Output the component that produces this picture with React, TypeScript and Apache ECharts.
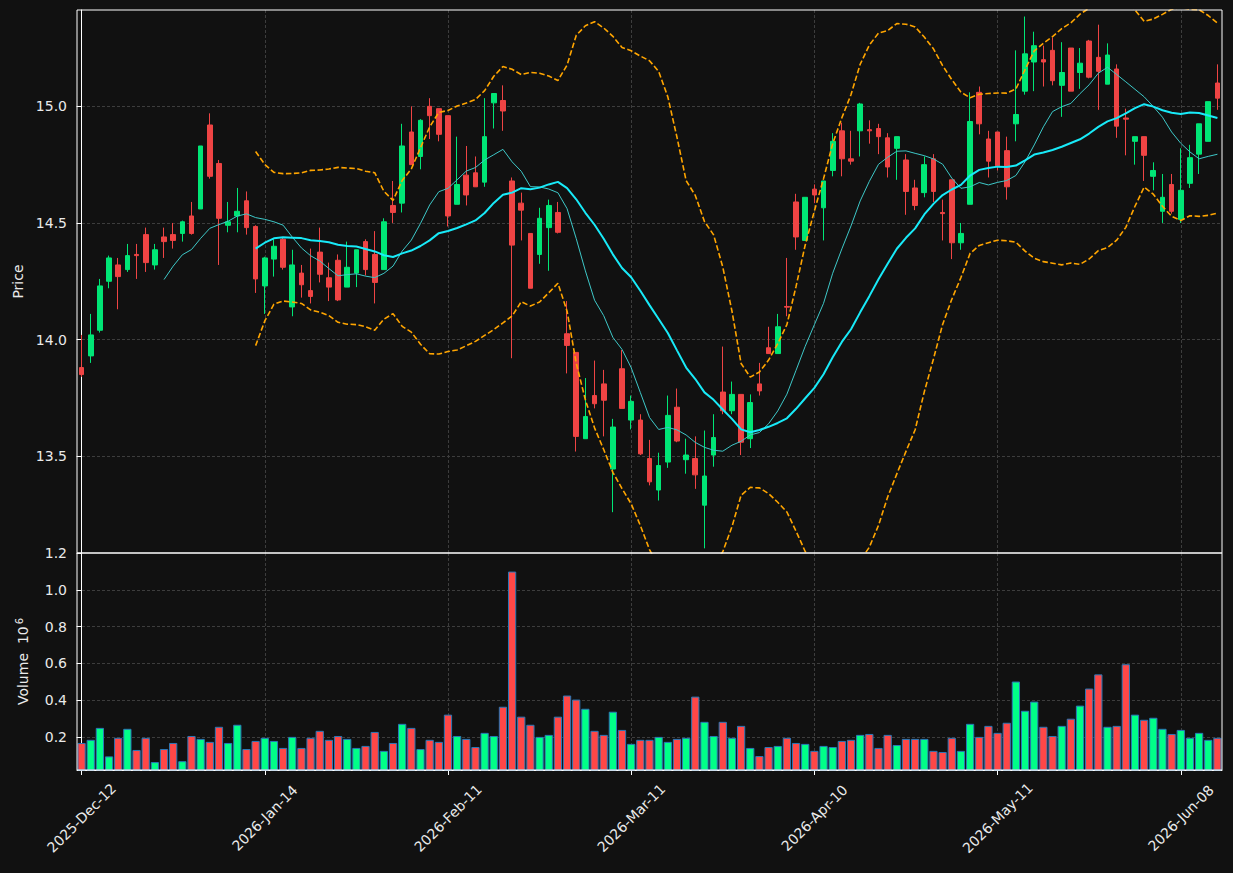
import React, { useEffect, useRef } from 'react';
import * as echarts from 'echarts';

// ---- data ----
const START_DATE = '2025-12-12';
const HOLIDAYS = ['2025-12-25', '2025-12-26', '2026-01-01', '2026-04-03', '2026-04-06', '2026-05-01'];
const MONTHS = ['Jan', 'Feb', 'Mar', 'Apr', 'May', 'Jun', 'Jul', 'Aug', 'Sep', 'Oct', 'Nov', 'Dec'];

const opens = [13.88, 13.93, 14.04, 14.25, 14.32, 14.30, 14.365, 14.45, 14.32, 14.44,
  14.45, 14.455, 14.53, 14.56, 14.92, 14.755, 14.49, 14.53, 14.595, 14.485,
  14.23, 14.345, 14.43, 14.14, 14.285, 14.21, 14.375, 14.265, 14.34, 14.225,
  14.285, 14.42, 14.365, 14.30, 14.575, 14.585, 14.89, 14.785, 15.00, 14.99,
  14.96, 14.58, 14.705, 14.715, 14.675, 15.015, 15.025, 14.68, 14.585, 14.455,
  14.365, 14.48, 14.545, 14.025, 13.945, 13.575, 13.76, 13.81, 13.445, 13.875,
  13.655, 13.655, 13.49, 13.355, 13.475, 13.71, 13.485, 13.49, 13.29, 13.505,
  13.775, 13.695, 13.765, 13.575, 13.81, 13.965, 13.94, 14.142, 14.59, 14.425,
  14.645, 14.565, 14.725, 14.895, 14.775, 14.895, 14.90, 14.905, 14.865, 14.82,
  14.77, 14.65, 14.63, 14.775, 14.545, 14.685, 14.415, 14.58, 15.06, 14.86,
  14.89, 14.81, 14.925, 15.065, 15.19, 15.20, 15.24, 15.09, 15.25, 15.145,
  15.28, 15.21, 15.095, 15.16, 14.95, 14.85, 14.87, 14.70, 14.55, 14.665,
  14.515, 14.67, 14.795, 14.85, 15.10];

const closes = [13.85, 14.02, 14.23, 14.35, 14.27, 14.36, 14.36, 14.33, 14.385, 14.42,
  14.425, 14.505, 14.455, 14.83, 14.70, 14.52, 14.505, 14.55, 14.48, 14.26,
  14.35, 14.40, 14.31, 14.32, 14.235, 14.185, 14.28, 14.225, 14.17, 14.31,
  14.385, 14.30, 14.245, 14.505, 14.545, 14.83, 14.75, 14.94, 14.96, 14.88,
  14.53, 14.665, 14.62, 14.655, 14.87, 15.055, 14.98, 14.405, 14.555, 14.22,
  14.52, 14.575, 14.46, 13.975, 13.585, 13.67, 13.725, 13.74, 13.625, 13.705,
  13.735, 13.51, 13.39, 13.46, 13.675, 13.565, 13.505, 13.42, 13.415, 13.58,
  13.695, 13.765, 13.56, 13.73, 13.78, 13.94, 14.055, 14.139, 14.44, 14.61,
  14.62, 14.68, 14.85, 14.775, 14.765, 15.01, 14.895, 14.87, 14.74, 14.87,
  14.635, 14.575, 14.75, 14.635, 14.54, 14.415, 14.455, 14.935, 14.925, 14.765,
  14.745, 14.655, 14.965, 15.225, 15.26, 15.19, 15.11, 15.145, 15.065, 15.185,
  15.125, 15.15, 15.22, 14.915, 14.945, 14.87, 14.79, 14.725, 14.61, 14.55,
  14.64, 14.78, 14.925, 15.02, 15.035];

const lows = [13.84, 13.90, 14.03, 14.22, 14.13, 14.29, 14.26, 14.29, 14.30, 14.35,
  14.39, 14.42, 14.45, 14.56, 14.69, 14.32, 14.46, 14.46, 14.45, 14.20,
  14.11, 14.27, 14.30, 14.10, 14.18, 14.155, 14.245, 14.165, 14.165, 14.225,
  14.225, 14.275, 14.155, 14.30, 14.50, 14.545, 14.75, 14.73, 14.86, 14.85,
  14.485, 14.58, 14.575, 14.655, 14.655, 14.905, 14.895, 13.92, 14.425, 14.22,
  14.325, 14.295, 14.455, 13.855, 13.52, 13.575, 13.705, 13.585, 13.26, 13.705,
  13.615, 13.505, 13.375, 13.31, 13.45, 13.56, 13.425, 13.36, 13.105, 13.455,
  13.68, 13.68, 13.505, 13.535, 13.76, 13.94, 13.94, 14.10, 14.385, 14.425,
  14.585, 14.425, 14.70, 14.70, 14.75, 14.785, 14.84, 14.795, 14.695, 14.685,
  14.535, 14.555, 14.61, 14.59, 14.425, 14.345, 14.385, 14.58, 14.88, 14.695,
  14.725, 14.60, 14.85, 15.05, 15.065, 15.085, 15.09, 14.955, 15.065, 15.075,
  15.12, 14.985, 15.095, 14.865, 14.79, 14.75, 14.68, 14.64, 14.50, 14.54,
  14.50, 14.65, 14.71, 14.85, 14.985];

const highs = [14.02, 14.11, 14.26, 14.36, 14.35, 14.41, 14.41, 14.48, 14.41, 14.48,
  14.50, 14.51, 14.59, 14.83, 14.97, 14.77, 14.59, 14.65, 14.635, 14.49,
  14.355, 14.43, 14.44, 14.385, 14.32, 14.39, 14.48, 14.33, 14.365, 14.42,
  14.385, 14.43, 14.465, 14.52, 14.68, 14.925, 15.00, 14.945, 15.035, 14.99,
  14.96, 14.87, 14.83, 14.785, 15.035, 15.055, 15.09, 14.695, 14.63, 14.455,
  14.565, 14.60, 14.59, 14.165, 13.945, 13.835, 13.91, 13.87, 13.66, 13.955,
  13.76, 13.68, 13.57, 13.515, 13.76, 13.79, 13.575, 13.585, 13.61, 13.68,
  13.97, 13.82, 13.765, 13.765, 13.90, 14.055, 14.11, 14.35, 14.625, 14.61,
  14.665, 14.68, 14.885, 14.93, 14.895, 15.015, 14.94, 14.925, 14.885, 14.87,
  14.795, 14.685, 14.785, 14.795, 14.60, 14.685, 14.50, 15.06, 15.085, 14.895,
  14.89, 14.87, 15.24, 15.385, 15.32, 15.26, 15.295, 15.275, 15.25, 15.25,
  15.285, 15.35, 15.27, 15.18, 14.99, 14.87, 14.87, 14.76, 14.71, 14.71,
  14.82, 14.835, 14.925, 15.02, 15.18];

// volume in millions
const volumes = [0.167, 0.184, 0.249, 0.094, 0.195, 0.244, 0.129, 0.195, 0.063, 0.134,
  0.167, 0.068, 0.205, 0.189, 0.173, 0.255, 0.167, 0.266, 0.134, 0.178,
  0.195, 0.178, 0.140, 0.200, 0.140, 0.195, 0.233, 0.184, 0.205, 0.189,
  0.140, 0.151, 0.227, 0.124, 0.167, 0.271, 0.249, 0.134, 0.184, 0.173,
  0.321, 0.205, 0.189, 0.145, 0.222, 0.205, 0.364, 1.099, 0.310, 0.266,
  0.200, 0.211, 0.310, 0.425, 0.403, 0.353, 0.233, 0.211, 0.337, 0.238,
  0.162, 0.184, 0.184, 0.200, 0.173, 0.189, 0.195, 0.419, 0.282, 0.205,
  0.282, 0.195, 0.260, 0.140, 0.096, 0.145, 0.151, 0.195, 0.167, 0.162,
  0.124, 0.151, 0.145, 0.178, 0.184, 0.211, 0.216, 0.140, 0.211, 0.156,
  0.189, 0.189, 0.189, 0.124, 0.118, 0.195, 0.124, 0.271, 0.200, 0.260,
  0.222, 0.277, 0.501, 0.342, 0.392, 0.255, 0.205, 0.260, 0.299, 0.370,
  0.463, 0.540, 0.255, 0.260, 0.595, 0.321, 0.293, 0.304, 0.244, 0.216,
  0.238, 0.195, 0.222, 0.184, 0.195];

// ---- derived ----
function tradingDays(start: string, n: number): string[] {
  const out: string[] = [];
  const d = new Date(start + 'T00:00:00Z');
  while (out.length < n) {
    const wd = d.getUTCDay();
    const iso = d.toISOString().slice(0, 10);
    if (wd !== 0 && wd !== 6 && HOLIDAYS.indexOf(iso) < 0) {
      const dd = String(d.getUTCDate()).padStart(2, '0');
      out.push(`${d.getUTCFullYear()}-${MONTHS[d.getUTCMonth()]}-${dd}`);
    }
    d.setUTCDate(d.getUTCDate() + 1);
  }
  return out;
}

function sma(arr: number[], n: number): (number | null)[] {
  return arr.map((_, i) => {
    if (i < n - 1) return null;
    let s = 0;
    for (let k = i - n + 1; k <= i; k++) s += arr[k];
    return s / n;
  });
}

function band(arr: number[], n: number, k: number): (number | null)[] {
  return arr.map((_, i) => {
    if (i < n - 1) return null;
    let s = 0;
    for (let j = i - n + 1; j <= i; j++) s += arr[j];
    const m = s / n;
    let v = 0;
    for (let j = i - n + 1; j <= i; j++) v += (arr[j] - m) * (arr[j] - m);
    return m + k * Math.sqrt(v / n);
  });
}

const N = closes.length;
const dates = tradingDays(START_DATE, N);
const ma10 = sma(closes, 10);
const ma20 = sma(closes, 20);
const bbUpper = band(closes, 20, 2);
const bbLower = band(closes, 20, -2);

const UP = '#00e676';
const DOWN = '#ef4444';
const VOL_UP = '#00ff88';
const VOL_DOWN = '#ff4747';
const TEXT = '#eaeaea';
const FONT = '"DejaVu Sans", sans-serif';
const GRID_LINE = {
  show: true,
  showMinLine: false,
  showMaxLine: false,
  lineStyle: { color: '#3d3d3d', type: [3, 2] as any, width: 1 },
};

export default function App() {
  const ref = useRef<HTMLDivElement>(null);

  useEffect(() => {
    document.body.style.margin = '0';
    document.body.style.background = '#111111';
    const chart = echarts.init(ref.current!, undefined, { renderer: 'svg' });

    const candleData = opens.map((o, i) => [o, closes[i], lows[i], highs[i]]);
    const volData = volumes.map((v, i) => ({
      value: v,
      itemStyle: { color: closes[i] >= opens[i] ? VOL_UP : VOL_DOWN },
    }));

    const hiddenValueX = (gridIndex: number) => ({
      type: 'value',
      gridIndex,
      min: -0.5,
      max: N - 0.5,
      splitNumber: 6,
      position: 'top',
      axisLine: { show: false },
      axisTick: { show: false },
      axisLabel: { show: false },
      splitLine: GRID_LINE,
    });

    chart.setOption({
      animation: false,
      backgroundColor: '#111111',
      textStyle: { fontFamily: FONT },
      grid: [
        { left: 77, top: 10, width: 1145, height: 543, show: true, z: 5, borderColor: '#ffffff', borderWidth: 1, backgroundColor: 'transparent' },
        { left: 77, top: 553, width: 1145, height: 217, show: true, z: 5, borderColor: '#ffffff', borderWidth: 1, backgroundColor: 'transparent' },
      ],
      xAxis: [
        {
          type: 'category', gridIndex: 0, data: dates, boundaryGap: true,
          axisLine: { show: false }, axisTick: { show: false }, axisLabel: { show: false }, splitLine: { show: false },
        },
        {
          type: 'category', gridIndex: 1, data: dates, boundaryGap: true,
          axisLine: { show: true, lineStyle: { color: '#ffffff', width: 1 } },
          axisTick: { show: true, alignWithLabel: true, interval: 19, length: 5, lineStyle: { color: '#ffffff' } },
          axisLabel: {
            show: true, interval: 19, rotate: 45, align: 'center', verticalAlign: 'middle', margin: 48,
            color: TEXT, fontSize: 14, fontFamily: FONT,
          },
          splitLine: { show: false },
        },
        hiddenValueX(0),
        hiddenValueX(1),
      ],
      yAxis: [
        {
          type: 'value', gridIndex: 0, min: 13.085, max: 15.413, splitNumber: 5, scale: true,
          name: 'Price', nameLocation: 'middle', nameGap: 52, nameRotate: 90,
          nameTextStyle: { color: TEXT, fontSize: 14, fontFamily: FONT },
          axisLine: { show: true, lineStyle: { color: '#ffffff' } },
          axisTick: { show: true, length: 5, lineStyle: { color: '#ffffff' } },
          axisLabel: {
            color: TEXT, fontSize: 14, fontFamily: FONT, margin: 10,
            showMinLabel: false, showMaxLabel: false,
            formatter: (v: number) => v.toFixed(1),
          },
          splitLine: GRID_LINE,
        },
        {
          type: 'value', gridIndex: 1, min: 0.02, max: 1.2, splitNumber: 5,
          name: '{a|Volume  10}{b|6}', nameLocation: 'middle', nameGap: 45, nameRotate: 90,
          nameTextStyle: {
            color: TEXT, fontSize: 14, fontFamily: FONT,
            rich: {
              a: { color: TEXT, fontSize: 14, fontFamily: FONT, lineHeight: 18 },
              b: { color: TEXT, fontSize: 10, fontFamily: FONT, verticalAlign: 'top', padding: [0, 0, 0, 2], lineHeight: 12 },
            },
          },
          axisLine: { show: true, lineStyle: { color: '#ffffff' } },
          axisTick: { show: true, length: 5, lineStyle: { color: '#ffffff' } },
          axisLabel: {
            color: TEXT, fontSize: 14, fontFamily: FONT, margin: 10,
            showMinLabel: false, showMaxLabel: true,
            formatter: (v: number) => v.toFixed(1),
          },
          splitLine: GRID_LINE,
        },
      ],
      series: [
        {
          name: 'OHLC', type: 'candlestick', xAxisIndex: 0, yAxisIndex: 0, data: candleData,
          barWidth: '56%',
          itemStyle: { color: UP, color0: DOWN, borderColor: UP, borderColor0: DOWN, borderWidth: 1 },
        },
        {
          name: 'MA10', type: 'line', xAxisIndex: 0, yAxisIndex: 0, data: ma10,
          showSymbol: false, symbol: 'none', lineStyle: { color: '#3ec8c8', width: 1 },
        },
        {
          name: 'MA20', type: 'line', xAxisIndex: 0, yAxisIndex: 0, data: ma20,
          showSymbol: false, symbol: 'none', lineStyle: { color: '#18eaf8', width: 2 },
        },
        {
          name: 'BB Upper', type: 'line', xAxisIndex: 0, yAxisIndex: 0, data: bbUpper,
          showSymbol: false, symbol: 'none', lineStyle: { color: '#ffa500', width: 1.6, type: [5.5, 2.5] },
        },
        {
          name: 'BB Lower', type: 'line', xAxisIndex: 0, yAxisIndex: 0, data: bbLower,
          showSymbol: false, symbol: 'none', lineStyle: { color: '#ffa500', width: 1.6, type: [5.5, 2.5] },
        },
        {
          name: 'Volume', type: 'bar', xAxisIndex: 1, yAxisIndex: 1, data: volData,
          barWidth: '90%',
          itemStyle: { borderColor: '#2a78b8', borderWidth: 1 },
        },
      ],
    });

    return () => chart.dispose();
  }, []);

  return (
    <div
      ref={ref}
      style={{ position: 'absolute', left: 0, top: 0, width: 1233, height: 873, background: '#111111' }}
    />
  );
}
